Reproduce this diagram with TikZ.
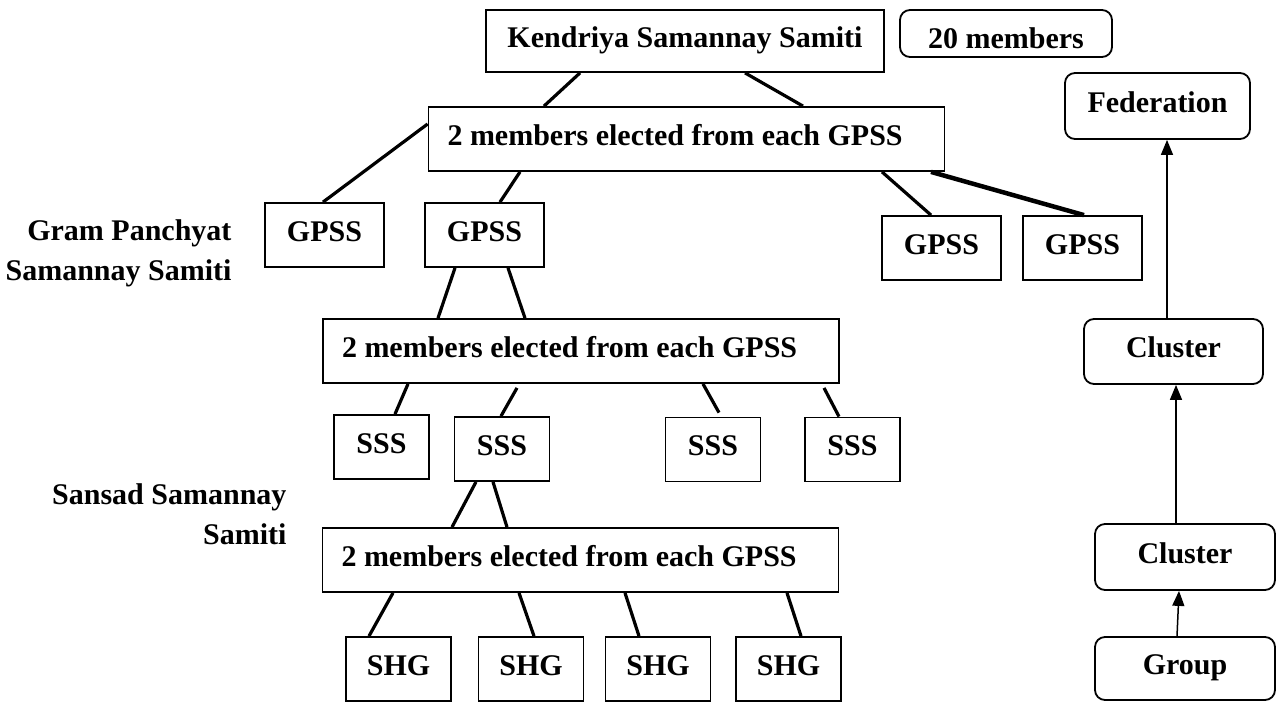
\documentclass[tikz,border=0pt]{standalone}
\usepackage{fontspec}
\setmainfont{Liberation Serif}
\usepackage{tikz}
\usetikzlibrary{arrows.meta,positioning}
\tikzset{
  caja/.style={draw,line width=1.8pt,inner sep=0pt,minimum height=64pt,
    text height=21pt,text depth=9pt,font=\fontsize{30}{40}\selectfont\bfseries},
  redonda/.style={caja,rounded corners=10pt},
  miembros/.style={caja,minimum width=516pt,text width=478pt,inner xsep=19pt,align=flush left},
  linea/.style={line width=3.2pt},
  flecha/.style={-{Triangle[length=15pt,width=12pt]},line width=1.5pt},
  rotulo/.style={align=flush right,anchor=east,font=\fontsize{30}{40}\selectfont\bfseries}
}
\begin{document}
\begin{tikzpicture}[x=1pt,y=-1pt]
\useasboundingbox (0,0) rectangle (1277,702);
\node[caja,minimum width=398pt,minimum height=62pt] (kss) at (685,41) {Kendriya Samannay Samiti};
\node[redonda,minimum width=212pt,minimum height=47pt,text height=29pt,text depth=0pt] (veinte) at (1006,33.5) {20 members};
\node[miembros] (mtop) at (686.5,139) {2 members elected from each GPSS};
\node[caja,minimum width=119pt] (g1) at (324.5,235) {GPSS};
\node[caja,minimum width=119pt] (g2) at (484.5,235) {GPSS};
\node[caja,minimum width=119pt] (g3) at (941.5,248) {GPSS};
\node[caja,minimum width=119pt] (g4) at (1082.5,248) {GPSS};
\node[rotulo] (gpsslab) at (235,253) {Gram Panchyat\\Samannay Samiti};
\node[miembros] (mmid) at (581,351) {2 members elected from each GPSS};
\foreach \n/\x/\y in {1/381.5/447, 2/502/449, 3/713/449.5, 4/852.5/449.5}{
  \node[caja,minimum width=95pt] (s\n) at (\x,\y) {SSS};
}
\node[rotulo] (ssslab) at (290,514) {Sansad Samannay\\Samiti};
\node[miembros] (mbot) at (580.5,560) {2 members elected from each GPSS};
\foreach \n/\x in {1/398.5, 2/531, 3/658, 4/788.5}{
  \node[caja,minimum width=105pt] (h\n) at (\x,669) {SHG};
}
% columna derecha
\node[redonda,minimum width=185pt,minimum height=66pt] (fed) at (1157.5,106) {Federation};
\node[redonda,minimum width=179pt,minimum height=65pt] (cl1) at (1173.5,351.5) {Cluster};
\node[redonda,minimum width=180pt,minimum height=66pt] (cl2) at (1185,557) {Cluster};
\node[redonda,minimum width=180pt,minimum height=63pt] (grp) at (1185,668.5) {Group};
% enlaces
\draw[linea] ([xshift=-105pt]kss.south) -- ([xshift=-142.5pt]mtop.north);
\draw[linea] ([xshift=60pt]kss.south) -- ([xshift=116.5pt]mtop.north);
\draw[linea] ([yshift=15pt]mtop.west) -- ([xshift=-1.5pt]g1.north);
\draw[linea] ([xshift=-166.5pt]mtop.south) -- ([xshift=15.5pt]g2.north);
\draw[linea] ([xshift=195.5pt]mtop.south) -- ([xshift=-10.5pt]g3.north);
\draw[linea,line width=4.5pt] ([xshift=244.5pt]mtop.south) -- ([xshift=1.5pt]g4.north);
\draw[linea] ([xshift=-29.5pt]g2.south) -- ([xshift=-143pt]mmid.north);
\draw[linea] ([xshift=23.5pt]g2.south) -- ([xshift=-56pt]mmid.north);
\draw[linea] ([xshift=-173pt]mmid.south) -- ([xshift=13.5pt]s1.north);
\draw[linea] ([xshift=-64pt,yshift=-4pt]mmid.south) -- ([xshift=-1pt]s2.north);
\draw[linea] ([xshift=122pt]mmid.south) -- ([xshift=6pt,yshift=4pt]s3.north);
\draw[linea] ([xshift=243pt,yshift=-4pt]mmid.south) -- ([xshift=-13.5pt]s4.north);
\draw[linea] ([xshift=-26pt]s2.south) -- ([xshift=-128.5pt]mbot.north);
\draw[linea] ([xshift=-9pt]s2.south) -- ([xshift=-73.5pt]mbot.north);
\foreach \n/\a/\b in {1/-187.5/-29.5, 2/-61.5/3, 3/44.5/-19, 4/206.5/12.5}{
  \draw[linea] ([xshift=\a pt]mbot.south) -- ([xshift=\b pt]h\n.north);
}
\draw[flecha] ([xshift=-8pt]grp.north) -- ([xshift=-6pt]cl2.south);
\draw[flecha] ([xshift=-9pt]cl2.north) -- ([xshift=2.5pt]cl1.south);
\draw[flecha] ([xshift=-6.5pt]cl1.north) -- ([xshift=9.5pt]fed.south);
\end{tikzpicture}
\end{document}
